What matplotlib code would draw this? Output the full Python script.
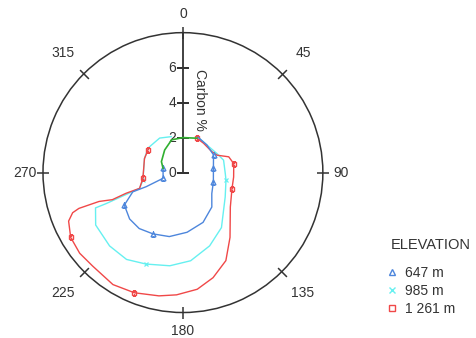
import numpy as np
import matplotlib.pyplot as plt
from matplotlib.lines import Line2D

plt.rcParams['font.family'] = ['Liberation Sans', 'DejaVu Sans']

# Elevation series (aspect angle in degrees, carbon %)
elevations = ['647 m', '985 m', '1 261 m']

ang_647 = [23, 41, 60, 82, 107, 126, 140, 158, 176, 192, 206, 218, 229, 241, 249, 249, 254, 282]
c_647 = [2.2, 2.09, 2.02, 1.76, 1.82, 2.04, 2.57, 3.07, 3.42, 3.74, 3.9, 4.06, 4.04, 3.83, 3.07, 2.25, 1.18, 1.16]
mk_647 = [2, 3, 4, 10, 13, 16, 17]

ang_985 = [23, 41, 61, 73, 91, 100, 120, 145, 160, 175, 188, 202, 213, 225, 239, 248, 248, 250, 259, 290, 305, 326, 342]
c_985 = [2.2, 2.09, 2.23, 2.43, 2.42, 2.5, 2.79, 3.84, 4.46, 5.06, 5.38, 5.64, 5.92, 5.93, 5.82, 5.39, 4.74, 2.64, 2.33, 2.34, 2.44, 2.38, 2.16]
mk_985 = [5, 11, 18]

ang_1261 = [22, 35, 54, 63, 71, 80, 95, 108, 126, 144, 154, 164, 173, 183, 191, 202, 212, 224, 232, 240,
            247, 250, 251, 251, 249, 250, 250, 262, 290, 303]
c_1261 = [2.12, 2.05, 2.04, 2.19, 2.77, 2.95, 2.91, 2.95, 3.35, 4.58, 5.6, 6.25, 6.72, 7.0, 7.18, 7.41, 7.55, 7.43, 7.49, 7.41,
          7.1, 6.71, 6.29, 5.07, 4.32, 3.46, 2.64, 2.31, 2.34, 2.38]
mk_1261 = [0, 5, 7, 15, 19, 27, 29]

# closing segment drawn in green
ang_green = [282, 297, 321, 341, 360, 382]
c_green = [1.16, 1.38, 1.66, 1.98, 2.0, 2.12]

r_ticks = [0, 2, 4, 6]
theta_ticks = [0, 45, 90, 135, 180, 225, 270, 315]

BLUE = '#4d86dc'
CYAN = '#66f0f0'
RED = '#f04848'
GREEN = '#30b030'
AXC = '#333333'

fig = plt.figure(figsize=(4.76, 3.38), dpi=100)
ax = fig.add_axes([0.0903, 0.0754, 0.588, 0.828], projection='polar')
ax.set_theta_zero_location('N')
ax.set_theta_direction(-1)
ax.set_ylim(0, 8)
ax.grid(False)
ax.set_yticks([])
ax.set_xticks(np.deg2rad(theta_ticks))
ax.set_xticklabels([])
ax.tick_params(axis='x', length=0)
ax.spines['polar'].set_color(AXC)
ax.spines['polar'].set_linewidth(1.1)

# tick marks crossing the outer circle, and their labels
for t in theta_ticks:
    ax.plot(np.deg2rad(t), 8, marker=(2, 0, -t), ms=9, mew=1.1, color=AXC, clip_on=False, zorder=3)
    r_lab = 9.05 if t % 90 == 0 else 9.7
    ax.text(np.deg2rad(t), r_lab, str(t), ha='center', va='center', fontsize=10, color=AXC, clip_on=False)

# radial axis
ax.plot([0, 0], [0, 8], color=AXC, lw=1.3, zorder=3)
ax.plot(np.zeros(len(r_ticks)), r_ticks, marker='_', ms=9, mew=1.2, ls='none', color=AXC, zorder=3)
for r in r_ticks:
    ax.annotate(str(r), xy=(0, r), xytext=(-5, 0), textcoords='offset points',
                ha='right', va='center', fontsize=10, color=AXC)
ax.annotate('Carbon %', xy=(0, 4.15), xytext=(7, 0), textcoords='offset points',
            ha='left', va='center', rotation=-90, fontsize=10, color=AXC)

# series
ax.plot(np.deg2rad(ang_985), c_985, color=CYAN, lw=1, marker='x', ms=3, mew=0.9, markevery=mk_985, zorder=4)
ax.plot(np.deg2rad(ang_1261), c_1261, color=RED, lw=1, marker='s', ms=3.5, mfc='none', markevery=mk_1261, zorder=4)
ax.plot(np.deg2rad(ang_647), c_647, color=BLUE, lw=1, marker='^', ms=3.5, mfc='none', markevery=mk_647, zorder=5)
ax.plot(np.deg2rad(ang_green), c_green, color=GREEN, lw=1.2, zorder=5)

# legend
fig.text(391 / 476, 1 - 245 / 338, 'ELEVATION', ha='left', va='center', fontsize=10.5, color=AXC)
handles = [
    Line2D([], [], ls='none', marker='^', mfc='none', mec=BLUE, ms=4),
    Line2D([], [], ls='none', marker='x', mec=CYAN, ms=4),
    Line2D([], [], ls='none', marker='s', mfc='none', mec=RED, ms=4),
]
fig.legend(handles, elevations, loc='upper left', bbox_to_anchor=(387 / 476, 1 - 266 / 338),
           frameon=False, handlelength=0.7, handletextpad=0.6, labelspacing=0.3,
           borderpad=0, borderaxespad=0, fontsize=10, labelcolor=AXC)

fig.savefig('out.png', dpi=100)
